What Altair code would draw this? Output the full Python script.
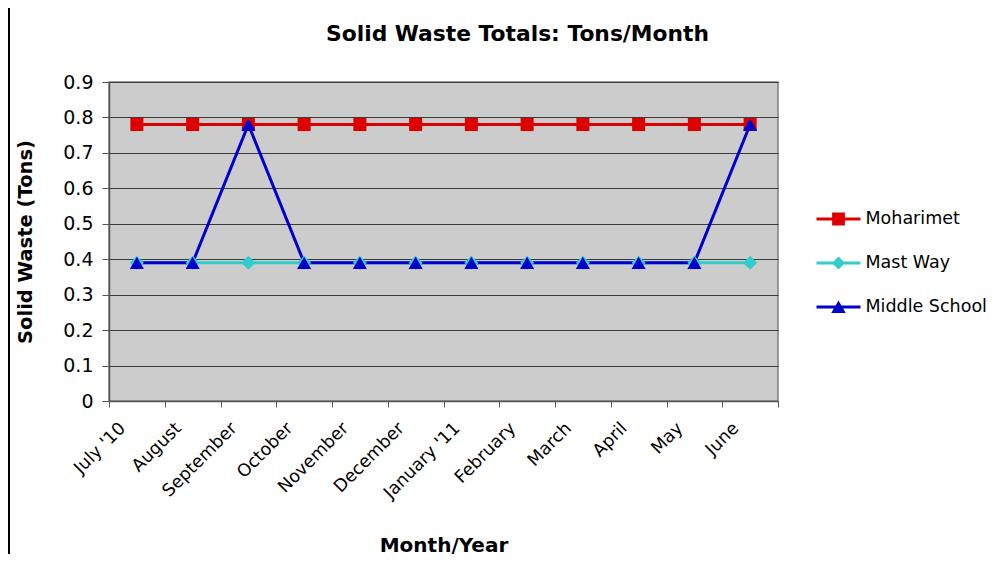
import altair as alt
import pandas as pd

months = ["July '10", "August", "September", "October", "November", "December",
          "January '11", "February", "March", "April", "May", "June"]
series_names = ["Moharimet", "Mast Way", "Middle School"]
moharimet = [0.78] * 12
mast_way = [0.39] * 12
middle_school = [0.39, 0.39, 0.78, 0.39, 0.39, 0.39, 0.39, 0.39, 0.39, 0.39, 0.39, 0.78]
colors = ["#DD0000", "#33CCCC", "#0000CC"]
shapes = ["square", "diamond", "triangle-up"]
marker_sizes = [170, 200, 200]
y_ticks = [0, 0.1, 0.2, 0.3, 0.4, 0.5, 0.6, 0.7, 0.8, 0.9]

rows = []
for name, vals in zip(series_names, [moharimet, mast_way, middle_school]):
    for m, v in zip(months, vals):
        rows.append({"month": m, "value": v, "series": name})
df = pd.DataFrame(rows)

FONT = "DejaVu Sans"

# legend glyphs: a line with the series marker on it (unit box -1..1)
LINE = "M-1,-0.068H1V0.068H-1Z"
legend_glyphs = [
    LINE + " M-0.29,-0.29H0.29V0.29H-0.29Z",
    LINE + " M0,-0.3L0.3,0L0,0.3L-0.3,0Z",
    LINE + " M0,-0.3L0.33,0.27L-0.33,0.27Z",
]

x_enc = alt.X("month:N", sort=months,
              scale=alt.Scale(type="band", paddingInner=0, paddingOuter=0),
              axis=alt.Axis(title="Month/Year", labelAngle=-45, tickBand="extent",
                            labelFontSize=17.5, titleFontSize=20, titleFontWeight="bold",
                            titlePadding=34, tickSize=6, labelPadding=12, labelOffset=-21,
                            domainColor="#555555", tickColor="#555555", domainWidth=1.5,
                            labelColor="#000000", titleColor="#000000"))
y_enc = alt.Y("value:Q",
              scale=alt.Scale(domain=[0, 0.9], nice=False),
              axis=alt.Axis(title="Solid Waste (Tons)", values=y_ticks,
                            format="~g", labelFontSize=19, titleFontSize=19.5,
                            titleFontWeight="bold", titlePadding=27, tickSize=7,
                            labelPadding=9, grid=True, gridColor="#3a3a3a",
                            gridWidth=1, domainColor="#555555", tickColor="#555555",
                            domainWidth=1.5,
                            labelColor="#000000", titleColor="#000000"))

base = alt.Chart(df)

leg = alt.Legend(title=None, orient="none", legendX=707.5, legendY=115,
                 symbolSize=1936, symbolStrokeWidth=0, symbolOpacity=1,
                 labelFontSize=17.5, labelOffset=5, rowPadding=13,
                 labelColor="#000000")
legend_layer = base.mark_point(filled=True, opacity=1, size=4).encode(
    x=x_enc, y=y_enc,
    fill=alt.Fill("series:N", scale=alt.Scale(domain=series_names, range=colors), legend=leg),
    shape=alt.Shape("series:N", scale=alt.Scale(domain=series_names, range=legend_glyphs), legend=leg),
)

lines = base.mark_line(strokeWidth=3).encode(
    x=x_enc, y=y_enc,
    stroke=alt.Stroke("series:N", sort=series_names,
                      scale=alt.Scale(domain=series_names, range=colors), legend=None),
)

point_layers = [
    base.transform_filter(alt.datum.series == name)
        .mark_point(filled=True, opacity=1, size=sz, shape=shp, fill=col, stroke=col, strokeWidth=0)
        .encode(x=x_enc, y=y_enc)
    for name, shp, col, sz in zip(series_names, shapes, colors, marker_sizes)
]

frame = alt.Chart(df).mark_rule(color="#000000", strokeWidth=1.5).encode(
    x=alt.value(-100), y=alt.value(-74), y2=alt.value(319 + 153)
)

chart = alt.layer(legend_layer, lines, *point_layers, frame).properties(
    width=669, height=319,
    title=alt.TitleParams("Solid Waste Totals: Tons/Month", fontSize=21.8, fontWeight="bold",
                          font=FONT, anchor="middle", frame="group", dx=74, offset=-39,
                          color="#000000"),
    autosize=alt.AutoSizeParams(type="none"),
    padding={"left": 101, "top": 74, "right": 216, "bottom": 153},
).configure(font=FONT).configure_view(fill="#CCCCCC", stroke="#808080", strokeWidth=1.5)

chart.save("out.html", embed_options={"renderer": "svg", "actions": False})
